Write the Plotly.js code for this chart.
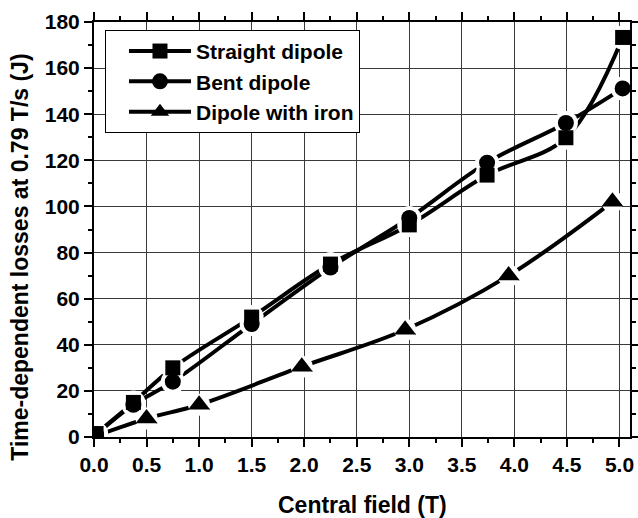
<!DOCTYPE html>
<html>
<head>
<meta charset="utf-8">
<script src="https://cdn.plot.ly/plotly-3.0.1.min.js"></script>
<style>
  html, body { margin: 0; padding: 0; background: #fff; }
  #chart { width: 638px; height: 518px; }
</style>
</head>
<body>
<div id="chart"></div>
<script>
// Time-dependent losses versus central field for three dipole variants
const seriesNames = ['Straight dipole', 'Bent dipole', 'Dipole with iron'];

const straightField = [0.02, 0.375, 0.75, 1.5, 2.25, 3.0, 3.74, 4.49, 5.03];
const straightLoss  = [1.5, 15, 30, 52, 75, 92, 113.6, 129.8, 173.3];

const bentField = [0.02, 0.375, 0.75, 1.5, 2.25, 3.0, 3.74, 4.49, 5.03];
const bentLoss  = [1, 14, 24, 49, 73.5, 95, 119, 136.2, 151.2];

const ironField = [0.02, 0.5, 1.0, 1.977, 2.96, 3.945, 4.933];
const ironLoss  = [0.5, 8, 14, 30.5, 46.5, 70, 102];

const xTickVals = [0, 0.5, 1, 1.5, 2, 2.5, 3, 3.5, 4, 4.5, 5];
const xTickText = ['0.0', '0.5', '1.0', '1.5', '2.0', '2.5', '3.0', '3.5', '4.0', '4.5', '5.0'];
const yTickVals = [0, 20, 40, 60, 80, 100, 120, 140, 160, 180];

const FONT = 'Liberation Sans, Arial, Helvetica, sans-serif';
const INK = '#000';

const series = [
  { name: seriesNames[0], x: straightField, y: straightLoss, symbol: 'square',      size: 15, gap: 24 },
  { name: seriesNames[1], x: bentField,     y: bentLoss,     symbol: 'circle',      size: 16, gap: 24 },
  { name: seriesNames[2], x: ironField,     y: ironLoss,     symbol: 'triangle-up', size: 19, gap: 22 }
];

// Smoothed curves (these also carry the legend entries)
const curveTraces = series.map(s => ({
  type: 'scatter', mode: 'lines+markers', name: s.name,
  x: s.x, y: s.y,
  line: { color: INK, width: 4, shape: 'spline', smoothing: 1 },
  marker: { color: INK, symbol: s.symbol, size: s.size }
}));

// White discs that open a small gap in the curves around each symbol
const gapTraces = series.map(s => ({
  type: 'scatter', mode: 'markers', showlegend: false, hoverinfo: 'skip',
  x: s.x, y: s.y,
  marker: { color: '#fff', symbol: 'circle', size: s.gap }
}));

// Solid symbols on top
const symbolTraces = series.map(s => ({
  type: 'scatter', mode: 'markers', showlegend: false,
  x: s.x, y: s.y,
  marker: { color: INK, symbol: s.symbol, size: s.size }
}));

const axisCommon = {
  showline: true, linecolor: INK, linewidth: 2, mirror: 'allticks',
  ticks: 'outside', ticklen: 8, tickwidth: 2, tickcolor: INK,
  showgrid: true, gridcolor: '#3a3a3a', gridwidth: 1,
  zeroline: false,
  tickfont: { family: FONT, size: 21, color: INK, weight: 'bold' }
};

const layout = {
  width: 638, height: 518,
  margin: { l: 94, r: 8, t: 22, b: 81 },
  paper_bgcolor: '#fff', plot_bgcolor: '#fff',
  showlegend: true,
  xaxis: Object.assign({}, axisCommon, {
    range: [0, 5.1], tickmode: 'array', tickvals: xTickVals, ticktext: xTickText,
    minor: { dtick: 0.25, ticks: 'outside', ticklen: 4, tickwidth: 2, tickcolor: INK, showgrid: false }
  }),
  yaxis: Object.assign({}, axisCommon, {
    range: [0, 180], tickmode: 'array', tickvals: yTickVals,
    minor: { dtick: 10, ticks: 'outside', ticklen: 4, tickwidth: 2, tickcolor: INK, showgrid: false }
  }),
  legend: {
    x: 0.0205, y: 0.981, xanchor: 'left', yanchor: 'top',
    bgcolor: '#fff', bordercolor: INK, borderwidth: 1,
    font: { family: FONT, size: 21, color: INK, weight: 'bold' },
    itemsizing: 'trace', itemwidth: 62, indentation: 18
  },
  annotations: [
    {
      text: 'Central field (T)', xref: 'paper', yref: 'paper',
      x: 0.5, y: -0.164, xanchor: 'center', yanchor: 'middle', showarrow: false,
      font: { family: FONT, size: 23, color: INK, weight: 'bold' }
    },
    {
      text: 'Time-dependent losses at 0.79 T/s (J)', xref: 'paper', yref: 'paper',
      x: -0.138, y: 0.432, xanchor: 'center', yanchor: 'middle', showarrow: false,
      textangle: -90,
      font: { family: FONT, size: 23, color: INK, weight: 'bold' }
    }
  ]
};

Plotly.newPlot('chart', curveTraces.concat(gapTraces, symbolTraces), layout,
  { displayModeBar: false, staticPlot: true });
</script>
</body>
</html>
